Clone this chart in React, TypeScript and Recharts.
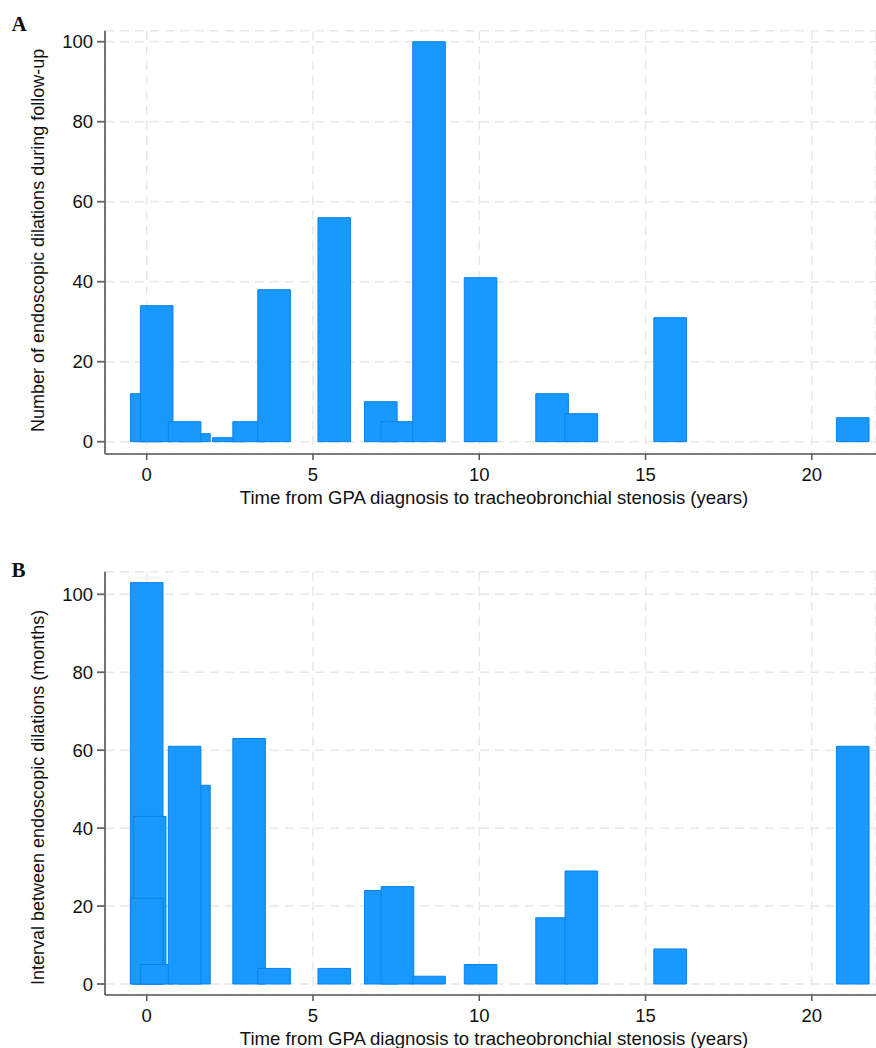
import React from 'react';
import { ComposedChart, XAxis, YAxis, CartesianGrid, ReferenceArea, Scatter, Label } from 'recharts';

// time from GPA diagnosis to stenosis (years), one bar per patient, in drawing order
const yearsA = [0.0, 0.3, 1.42, 1.14, 2.47, 3.08, 3.83, 5.64, 7.04, 7.54, 8.49, 10.04, 12.19, 13.07, 15.74, 21.23];
const dilationsA = [12, 34, 2, 5, 1, 5, 38, 56, 10, 5, 100, 41, 12, 7, 31, 6];

const yearsB = [0.0, 0.09, 0.0, 0.3, 1.42, 1.14, 3.08, 3.83, 5.64, 7.04, 7.54, 8.49, 10.04, 12.19, 13.07, 15.74, 21.23];
const intervalB = [103, 43, 22, 5, 51, 61, 63, 4, 4, 24, 25, 2, 5, 17, 29, 9, 61];

const xTicks = [0, 5, 10, 15, 20];
const yTicks = [0, 20, 40, 60, 80, 100];

const xTitle = 'Time from GPA diagnosis to tracheobronchial stenosis (years)';
const yTitleA = 'Number of endoscopic dilations during follow-up';
const yTitleB = 'Interval between endoscopic dilations (months)';

const FONT = '"Liberation Sans", Arial, Helvetica, sans-serif';
const BAR_W = 0.98;
const W = 876;
const H = 520;

interface PanelProps {
  years: number[];
  values: number[];
  yDomain: [number, number];
  yTitle: string;
  yTitleShift: number;
}

const Panel: React.FC<PanelProps> = ({ years, values, yDomain, yTitle, yTitleShift }) => {
  const data = years.map((x, i) => ({ x, y: values[i] }));
  return (
    <ComposedChart width={W} height={H} data={data} margin={{ top: 30.7, right: 0, bottom: 0, left: 0 }}>
      <CartesianGrid stroke="#e8e8e8" strokeWidth={1.5} strokeDasharray="9 6" />
      <XAxis
        type="number"
        dataKey="x"
        domain={[-1.254, 21.93]}
        ticks={xTicks}
        allowDataOverflow
        height={66}
        tickSize={6}
        tickMargin={8}
        stroke="#555"
        strokeWidth={1.5}
        tick={{ fill: '#111', fontSize: 18.5, fontFamily: FONT }}
      >
        <Label
          content={() => (
            <text x={494} y={503.5} textAnchor="middle" fontSize={18.6} fontFamily={FONT} fill="#111">
              {xTitle}
            </text>
          )}
        />
      </XAxis>
      <YAxis
        type="number"
        domain={yDomain}
        ticks={yTicks}
        allowDataOverflow
        width={105}
        tickSize={8}
        tickMargin={4}
        stroke="#666"
        strokeWidth={1.8}
        tick={{ fill: '#111', fontSize: 18.5, fontFamily: FONT }}
      >
        <Label
          content={() => {
            const cy = 242.4 + yTitleShift;
            return (
              <text
                x={38}
                y={cy}
                transform={`rotate(-90, 38, ${cy})`}
                textAnchor="middle"
                dominantBaseline="central"
                fontSize={18}
                fontFamily={FONT}
                fill="#111"
              >
                {yTitle}
              </text>
            );
          }}
        />
      </YAxis>
      {data.map((d, i) => (
        <ReferenceArea
          key={`bar-${i}`}
          x1={d.x - BAR_W / 2}
          x2={d.x + BAR_W / 2}
          y1={0}
          y2={d.y}
          fill="#1998fd"
          fillOpacity={1}
          stroke="#0a82ea"
          strokeWidth={1}
          ifOverflow="visible"
        />
      ))}
      <Scatter dataKey="y" fill="none" isAnimationActive={false} shape={() => <g />} legendType="none" />
    </ComposedChart>
  );
};

export default function App() {
  return (
    <div style={{ position: 'absolute', left: 0, top: 0, width: W, height: 1048, overflow: 'hidden', background: '#fff' }}>
      <div style={{ position: 'absolute', left: 0, top: 0 }}>
        <Panel years={yearsA} values={dilationsA} yDomain={[-3.075, 102.75]} yTitle={yTitleA} yTitleShift={-2} />
      </div>
      <div style={{ position: 'absolute', left: 0, top: 541 }}>
        <Panel years={yearsB} values={intervalB} yDomain={[-2.82, 105.8]} yTitle={yTitleB} yTitleShift={14} />
      </div>
      <svg width={W} height={1048} style={{ position: 'absolute', left: 0, top: 0, pointerEvents: 'none' }}>
        <text x={11.5} y={30.7} fontSize={21} fontWeight="bold" fontFamily='"Liberation Serif", "Times New Roman", serif' fill="#111">A</text>
        <text x={11.5} y={576.7} fontSize={21} fontWeight="bold" fontFamily='"Liberation Serif", "Times New Roman", serif' fill="#111">B</text>
      </svg>
    </div>
  );
}
